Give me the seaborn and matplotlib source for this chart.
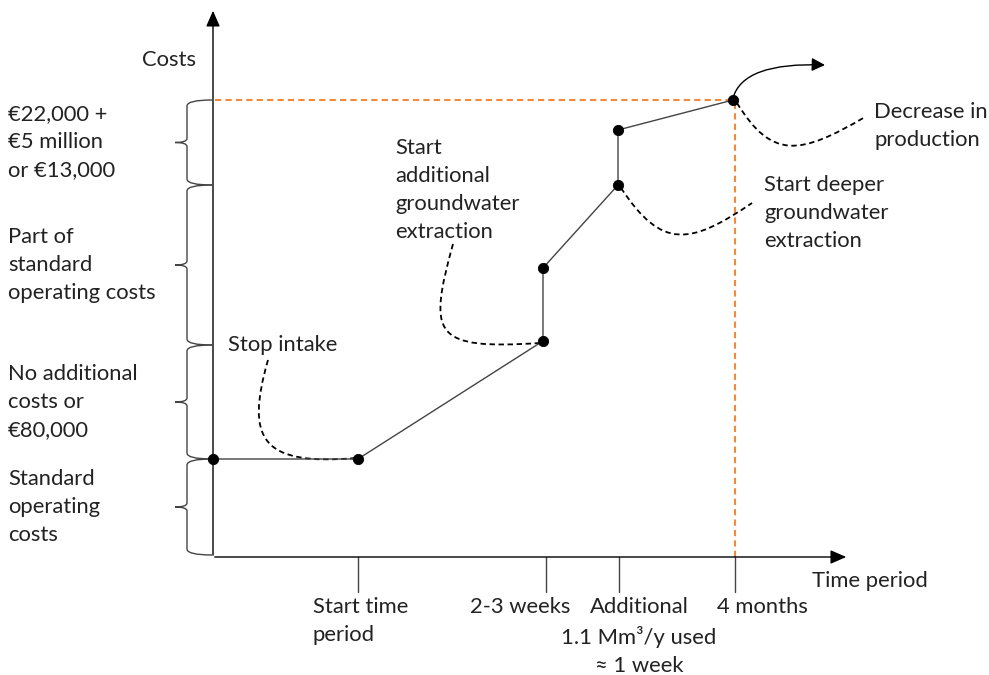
import numpy as np
import pandas as pd
import matplotlib.pyplot as plt
import seaborn as sns
from matplotlib.path import Path
from matplotlib.patches import PathPatch, FancyArrowPatch

sns.set_theme(style="white")
plt.rcParams['font.family'] = ['Lato', 'DejaVu Sans']

# event path: time (arbitrary units) vs cost level (arbitrary units)
event_time = [0, 145, 330, 330, 405, 405, 520]
event_cost = [98, 98, 216, 289, 372, 427, 457]

# time axis ticks and labels
tick_time = [145, 333, 406, 522]
tick_labels = ["Start time\nperiod", "2-3 weeks", "Additional\n1.1 Mm³/y used\n≈ 1 week", "4 months"]
tick_label_x = [100, 307, 426, 549]
tick_label_ha = ["left", "center", "center", "center"]

# cost bands (braces on the cost axis)
band_edges = [457, 372, 212, 98, 2]
band_labels = ["€22,000 +\n€5 million\nor €13,000",
               "Part of\nstandard\noperating costs",
               "No additional\ncosts or\n€80,000",
               "Standard\noperating\ncosts"]

# annotations: label, label position, bezier control points of dashed leader
notes = ["Stop intake", "Start\nadditional\ngroundwater\nextraction",
         "Start deeper\ngroundwater\nextraction", "Decrease in\nproduction"]
note_pos = [(15, 212), (182, 367), (551, 344), (661, 431)]
leaders = [[(55, 197), (32, 117), (49, 91), (143, 99)],
           [(240, 313), (215, 222), (219, 207), (327, 214)],
           [(408, 369), (449, 307), (477, 312), (539, 354)],
           [(524, 454), (559, 397), (587, 402), (652, 440)]]

fig = plt.figure(figsize=(9.89, 6.75), dpi=100)
ax = fig.add_axes([0, 0, 1, 1])

fs = 15.8
ls_txt = 1.5
dark = "#222222"

# axes with arrows
ax.annotate("", xy=(0, 549), xytext=(0, -1),
            arrowprops=dict(arrowstyle="-|>,head_length=0.8,head_width=0.35", color="black", lw=1.0))
ax.annotate("", xy=(636, 0), xytext=(-1, 0),
            arrowprops=dict(arrowstyle="-|>,head_length=0.8,head_width=0.35", color="black", lw=1.0))
ax.text(-17, 497, "Costs", fontsize=fs, ha="right", va="center", color=dark)
ax.text(657, -24, "Time period", fontsize=fs, ha="center", va="center", color=dark)

# orange reference lines to the last point
ax.plot([2, event_time[-1]], [event_cost[-1], event_cost[-1]], ls=(0, (3, 2)), color="#F28A3A", lw=1.5, zorder=1)
ax.plot([522, 522], [0, event_cost[-1]], ls=(0, (3, 2)), color="#F28A3A", lw=1.5, zorder=1)

# path and points
df = pd.DataFrame({"time": event_time, "cost": event_cost})
sns.lineplot(data=df, x="time", y="cost", sort=False, estimator=None, color="#444444", lw=1.0, ax=ax, zorder=2)
sns.scatterplot(data=df, x="time", y="cost", color="black", s=55, edgecolor="black", ax=ax, zorder=3)
ax.set_xlim(-213, 776)
ax.set_ylim(-118, 557)
ax.axis("off")

# ticks and tick labels
for t, lab, lx, ha in zip(tick_time, tick_labels, tick_label_x, tick_label_ha):
    ax.plot([t, t], [0, -35], color="#444444", lw=1.0)
    ax.text(lx, -40, lab, fontsize=fs, ha=ha, va="top", color=dark, linespacing=ls_txt, multialignment=ha)

# braces
for top, bot, lab in zip(band_edges[:-1], band_edges[1:], band_labels):
    mid = (top + bot) / 2
    verts = [(-1, top), (-26, top), (-26, top - 6), (-26, mid + 4),
             (-26, mid), (-38, mid), (-26, mid), (-26, mid - 4),
             (-26, bot + 6), (-26, bot), (-1, bot)]
    codes = [Path.MOVETO, Path.CURVE3, Path.CURVE3, Path.LINETO,
             Path.CURVE3, Path.CURVE3, Path.CURVE3, Path.CURVE3,
             Path.LINETO, Path.CURVE3, Path.CURVE3]
    ax.add_patch(PathPatch(Path(verts, codes), fill=False, color="#444444", lw=1.0))
    ax.text(-205, mid, lab, fontsize=fs, ha="left", va="center", color=dark, linespacing=ls_txt)

# annotation labels and dashed leaders
for lab, (nx, ny), pts in zip(notes, note_pos, leaders):
    ax.text(nx, ny, lab, fontsize=fs, ha="left", va="center", color=dark, linespacing=ls_txt)
    codes = [Path.MOVETO, Path.CURVE4, Path.CURVE4, Path.CURVE4]
    ax.add_patch(PathPatch(Path(pts, codes), fill=False, color="black", lw=1.3, ls=(0, (3, 2))))

# curved arrow leaving the last point
arrow = FancyArrowPatch(path=Path([(520, 459), (530, 495), (612, 492)],
                                  [Path.MOVETO, Path.CURVE3, Path.CURVE3]),
                        arrowstyle="-|>,head_length=8,head_width=4", color="black", lw=1.0,
                        transform=ax.transData)
ax.add_patch(arrow)

fig.savefig("out.png", dpi=100)
